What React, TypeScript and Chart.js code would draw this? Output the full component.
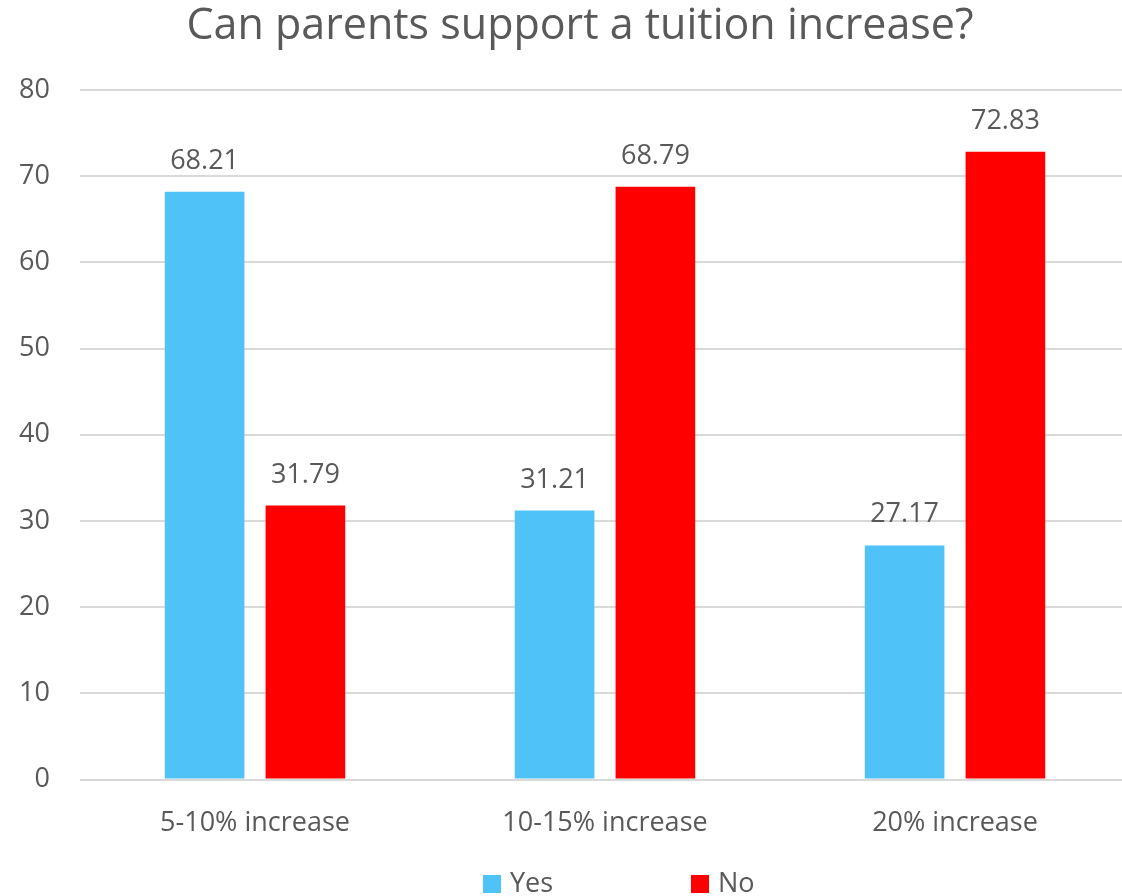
import React, { useEffect, useRef } from "react";
import { Chart, registerables } from "chart.js";

Chart.register(...registerables);

const categories = ["5-10% increase", "10-15% increase", "20% increase"];
const yesValues = [68.21, 31.21, 27.17];
const noValues = [31.79, 68.79, 72.83];
const seriesNames = ["Yes", "No"];
const seriesColors = ["#4FC3F7", "#FF0000"];
const titleText = "Can parents support a tuition increase?";

const FONT = "'Open Sans', 'Noto Sans', sans-serif";
const TEXT = "#595959";
const FS = 27;

const dataLabelPlugin = {
  id: "dataLabels",
  afterDatasetsDraw(chart: any) {
    const ctx = chart.ctx;
    ctx.save();
    ctx.font = `${FS}px ${FONT}`;
    ctx.fillStyle = TEXT;
    ctx.textAlign = "center";
    ctx.textBaseline = "alphabetic";
    chart.data.datasets.forEach((ds: any, di: number) => {
      const meta = chart.getDatasetMeta(di);
      meta.data.forEach((el: any, i: number) => {
        ctx.fillText(Number(ds.data[i]).toFixed(2), el.x, el.y - 23);
      });
    });
    ctx.restore();
  },
};

const titlePlugin = {
  id: "customTitle",
  afterDraw(chart: any) {
    const ctx = chart.ctx;
    const area = chart.chartArea;
    const cx = (area.left + area.right) / 2 - 25;
    ctx.save();
    ctx.font = `43px ${FONT}`;
    ctx.fillStyle = TEXT;
    ctx.textAlign = "center";
    ctx.textBaseline = "alphabetic";
    ctx.fillText(titleText, cx, 39);
    ctx.restore();
  },
};

const legendPlugin = {
  id: "customLegend",
  afterDraw(chart: any) {
    const ctx = chart.ctx;
    const area = chart.chartArea;
    const cx = (area.left + area.right) / 2;
    const startX = cx - 122;
    const baseY = 892;
    ctx.save();
    ctx.font = `${FS}px ${FONT}`;
    ctx.textBaseline = "alphabetic";
    ctx.textAlign = "left";
    chart.data.datasets.forEach((ds: any, i: number) => {
      const x = startX + i * 208;
      ctx.fillStyle = ds.backgroundColor;
      ctx.fillRect(x, baseY - 17, 18, 18);
      ctx.fillStyle = TEXT;
      ctx.fillText(ds.label, x + 27, baseY);
    });
    ctx.restore();
  },
};

export default function App() {
  const ref = useRef<HTMLCanvasElement>(null);
  useEffect(() => {
    if (!ref.current) return;
    const chart = new Chart(ref.current, {
      type: "bar",
      data: {
        labels: categories,
        datasets: [
          {
            label: seriesNames[0],
            data: yesValues,
            backgroundColor: seriesColors[0],
            categoryPercentage: 0.576,
            barPercentage: 0.79,
          },
          {
            label: seriesNames[1],
            data: noValues,
            backgroundColor: seriesColors[1],
            categoryPercentage: 0.576,
            barPercentage: 0.79,
          },
        ],
      },
      options: {
        animation: false,
        responsive: false,
        maintainAspectRatio: false,
        layout: { padding: { left: 19, right: 0, top: 90, bottom: 28 } },
        plugins: {
          legend: { display: false },
          tooltip: { enabled: false },
          title: { display: false },
        },
        scales: {
          x: {
            grid: { display: false, drawTicks: false },
            border: { display: false },
            ticks: {
              color: TEXT,
              font: { family: FONT, size: FS },
              padding: 28,
              maxRotation: 0,
            },
            afterFit(scale: any) {
              scale.paddingLeft = 0;
              scale.paddingRight = 0;
            },
          },
          y: {
            min: 0,
            max: 80,
            grid: { color: "#D9D9D9", lineWidth: 2, drawTicks: false },
            border: { display: false },
            ticks: {
              stepSize: 10,
              color: TEXT,
              font: { family: FONT, size: FS },
              padding: 30,
            },
            afterFit(scale: any) {
              scale.width = 61;
              scale.paddingTop = 0;
              scale.paddingBottom = 0;
            },
          },
        },
      },
      plugins: [dataLabelPlugin, titlePlugin, legendPlugin],
    });
    return () => chart.destroy();
  }, []);
  return (
    <div style={{ position: "fixed", left: 0, top: 0, width: 1122, height: 896, overflow: "hidden", background: "#fff" }}>
      <canvas ref={ref} width={1130} height={896} style={{ width: 1130, height: 896, display: "block" }} />
    </div>
  );
}
